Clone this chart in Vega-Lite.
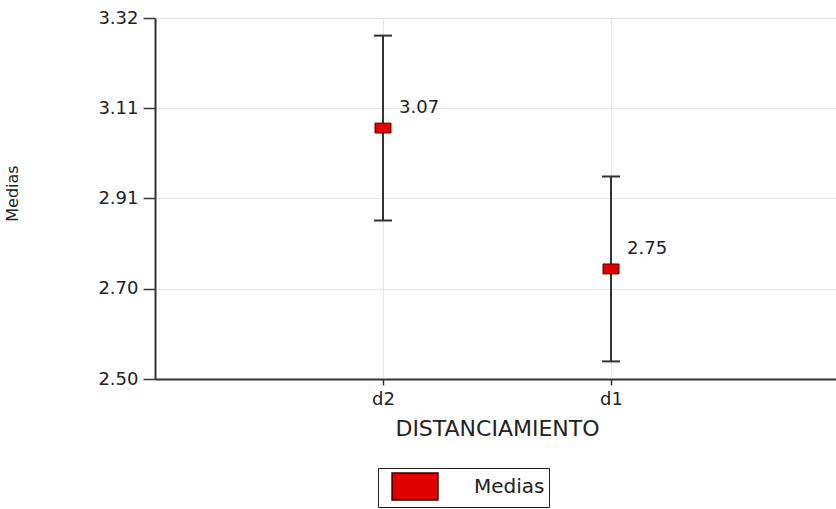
{
  "$schema": "https://vega.github.io/schema/vega-lite/v6.json",
  "autosize": {"type": "none"},
  "padding": {"left": 155, "top": 18, "right": 0, "bottom": 130},
  "width": 684,
  "height": 361,
  "background": "white",
  "data": {
    "values": [
      {"grupo": "d2", "media": 3.07, "inferior": 2.86, "superior": 3.28, "serie": "Medias"},
      {"grupo": "d1", "media": 2.75, "inferior": 2.54, "superior": 2.96, "serie": "Medias"}
    ]
  },
  "config": {
    "font": "DejaVu Sans",
    "view": {"stroke": null},
    "axis": {
      "domainColor": "#333333",
      "domainWidth": 2,
      "tickColor": "#333333",
      "tickWidth": 1.5,
      "gridColor": "#e6e6e6",
      "gridWidth": 1,
      "labelColor": "#222222",
      "titleColor": "#222222",
      "titleFontWeight": "normal"
    }
  },
  "encoding": {
    "x": {
      "field": "grupo",
      "type": "nominal",
      "sort": ["d2", "d1"],
      "scale": {"type": "point", "padding": 1},
      "axis": {
        "title": "DISTANCIAMIENTO",
        "titleFontSize": 22,
        "titlePadding": 10,
        "labelAngle": 0,
        "labelFontSize": 18,
        "labelPadding": 5,
        "tickSize": 6,
        "grid": true,
        "zindex": 0
      }
    }
  },
  "layer": [
    {
      "mark": {"type": "rule", "color": "#333333", "strokeWidth": 2},
      "encoding": {
        "y": {
          "field": "inferior",
          "type": "quantitative",
          "scale": {"domain": [2.5, 3.32], "nice": false, "zero": false},
          "axis": {
            "title": "Medias",
            "titleFontSize": 16,
            "titleX": -135,
            "titleY": 175,
            "values": [2.5, 2.705, 2.91, 3.115, 3.32],
            "labelExpr": "format(floor(datum.value * 100 + 0.001) / 100, '.2f')",
            "labelFontSize": 18,
            "labelPadding": 5,
            "tickSize": 12,
            "grid": true,
            "zindex": 0
          }
        },
        "y2": {"field": "superior"}
      }
    },
    {
      "mark": {"type": "tick", "orient": "horizontal", "color": "#333333", "opacity": 1, "size": 18, "thickness": 2},
      "encoding": {"y": {"field": "inferior", "type": "quantitative"}}
    },
    {
      "mark": {"type": "tick", "orient": "horizontal", "color": "#333333", "opacity": 1, "size": 18, "thickness": 2},
      "encoding": {"y": {"field": "superior", "type": "quantitative"}}
    },
    {
      "mark": {
        "type": "point",
        "shape": "M-1,-0.62H1V0.62H-1Z",
        "size": 256,
        "filled": true,
        "opacity": 1,
        "stroke": "#550000",
        "strokeWidth": 1
      },
      "encoding": {
        "y": {"field": "media", "type": "quantitative"},
        "fill": {
          "field": "serie",
          "type": "nominal",
          "scale": {"range": ["#e00000"]},
          "legend": {
            "title": null,
            "orient": "none",
            "legendX": 223,
            "legendY": 450,
            "strokeColor": "#222222",
            "padding": 4,
            "symbolOffset": 18.5,
            "symbolType": "M-1.7,-1H1.7V1H-1.7Z",
            "symbolSize": 729,
            "symbolStrokeColor": "#330000",
            "symbolStrokeWidth": 1.5,
            "labelFontSize": 20,
            "labelOffset": 44.5,
            "labelColor": "#222222"
          }
        }
      }
    },
    {
      "mark": {"type": "text", "align": "left", "baseline": "middle", "dx": 16, "dy": -20, "fontSize": 18, "color": "#222222"},
      "encoding": {
        "y": {"field": "media", "type": "quantitative"},
        "text": {"field": "media", "type": "quantitative", "format": ".2f"}
      }
    }
  ]
}
